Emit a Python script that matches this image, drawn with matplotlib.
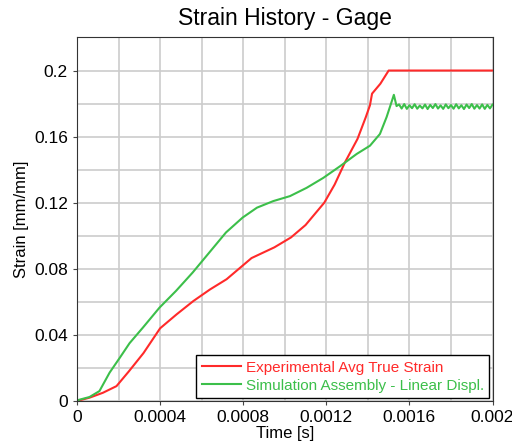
import matplotlib
matplotlib.use("Agg")
import matplotlib.pyplot as plt
from matplotlib.ticker import MultipleLocator

plt.rcParams["font.family"] = ["Liberation Sans", "DejaVu Sans"]

# Experimental Avg True Strain
exp_time = [0, 0.00006, 0.000125, 0.00019, 0.00025, 0.00032, 0.0004, 0.00048,
            0.00056, 0.00064, 0.00072, 0.00084, 0.00095, 0.00103, 0.0011,
            0.00119, 0.00124, 0.00129, 0.00135, 0.00139, 0.00141, 0.00142,
            0.00146, 0.0015, 0.002]
exp_strain = [0, 0.002, 0.005, 0.009, 0.018, 0.029, 0.044, 0.0525, 0.0605,
              0.0675, 0.0737, 0.0865, 0.093, 0.099, 0.1065, 0.120, 0.131,
              0.1445, 0.1586, 0.1718, 0.179, 0.186, 0.192, 0.2, 0.2]

# Simulation Assembly - Linear Displ.
sim_time = [0, 0.00006, 0.000108, 0.000157, 0.000205, 0.000253, 0.000317,
            0.000397, 0.000477, 0.000557, 0.000637, 0.000717, 0.000797,
            0.000866, 0.000945, 0.001025, 0.001105, 0.001185, 0.001265,
            0.001346, 0.00141, 0.001458, 0.00149, 0.001514, 0.001525,
            0.001538,
            0.00155, 0.0015625, 0.001575, 0.0015875, 0.0016, 0.0016125,
            0.001625, 0.0016375, 0.00165, 0.0016625, 0.001675, 0.0016875,
            0.0017, 0.0017125, 0.001725, 0.0017375, 0.00175, 0.0017625,
            0.001775, 0.0017875, 0.0018, 0.0018125, 0.001825, 0.0018375,
            0.00185, 0.0018625, 0.001875, 0.0018875, 0.0019, 0.0019125,
            0.001925, 0.0019375, 0.00195, 0.0019625, 0.001975, 0.0019875,
            0.002]
sim_strain = [0.0004, 0.0024, 0.006, 0.0172, 0.026, 0.035, 0.0444, 0.0565,
              0.0667, 0.0778, 0.0899, 0.102, 0.111, 0.117, 0.121, 0.124,
              0.129, 0.135, 0.142, 0.1495, 0.1545, 0.1616, 0.1718, 0.181,
              0.1853, 0.1785,
              0.1795, 0.1770, 0.1797, 0.1768, 0.1790, 0.1772, 0.1796, 0.1769,
              0.1788, 0.1771, 0.1794, 0.1767, 0.1792, 0.1773, 0.1797, 0.1770,
              0.1789, 0.1768, 0.1795, 0.1772, 0.1791, 0.1769, 0.1796, 0.1771,
              0.1790, 0.1767, 0.1794, 0.1773, 0.1797, 0.1769, 0.1791, 0.1770,
              0.1795, 0.1768, 0.1792, 0.1771, 0.1794]

x_ticks = [0, 0.0004, 0.0008, 0.0012, 0.0016, 0.002]
x_tick_labels = ["0", "0.0004", "0.0008", "0.0012", "0.0016", "0.002"]
y_ticks = [0, 0.04, 0.08, 0.12, 0.16, 0.2]
y_tick_labels = ["0", "0.04", "0.08", "0.12", "0.16", "0.2"]

fig = plt.figure(figsize=(5.12, 4.41), dpi=100)
ax = fig.add_axes([0.1504, 0.0907, 0.8116, 0.8243])

ax.plot(exp_time, exp_strain, color="#ff2a2a", lw=1.5,
        label="Experimental Avg True Strain")
ax.plot(sim_time, sim_strain, color="#3cbf4a", lw=1.5,
        label="Simulation Assembly - Linear Displ.")

ax.set_xlim(0, 0.002)
ax.set_ylim(0, 0.22)
ax.set_xticks(x_ticks)
ax.set_xticklabels(x_tick_labels)
ax.set_yticks(y_ticks)
ax.set_yticklabels(y_tick_labels)
ax.xaxis.set_minor_locator(MultipleLocator(0.0002))
ax.yaxis.set_minor_locator(MultipleLocator(0.02))
ax.tick_params(which="both", labelsize=12.5, length=3, color="#444444")
ax.tick_params(which="minor", length=0)
ax.grid(True, which="both", color="#cccccc", lw=1.2)
ax.set_axisbelow(True)
for spine in ax.spines.values():
    spine.set_color("#333333")

ax.set_title("Strain History - Gage", fontsize=16.5, pad=9)
ax.set_xlabel("Time [s]", fontsize=12, labelpad=1)
ax.set_ylabel("Strain [mm/mm]", fontsize=12)

leg = ax.legend(loc="lower right", fontsize=11, fancybox=False,
                framealpha=1, edgecolor="black", handlelength=2.6,
                handletextpad=0.3, borderaxespad=0.2, labelspacing=0.25,
                borderpad=0.35)
for text, line in zip(leg.get_texts(), leg.get_lines()):
    text.set_color(line.get_color())

fig.savefig("out.png", dpi=100)
